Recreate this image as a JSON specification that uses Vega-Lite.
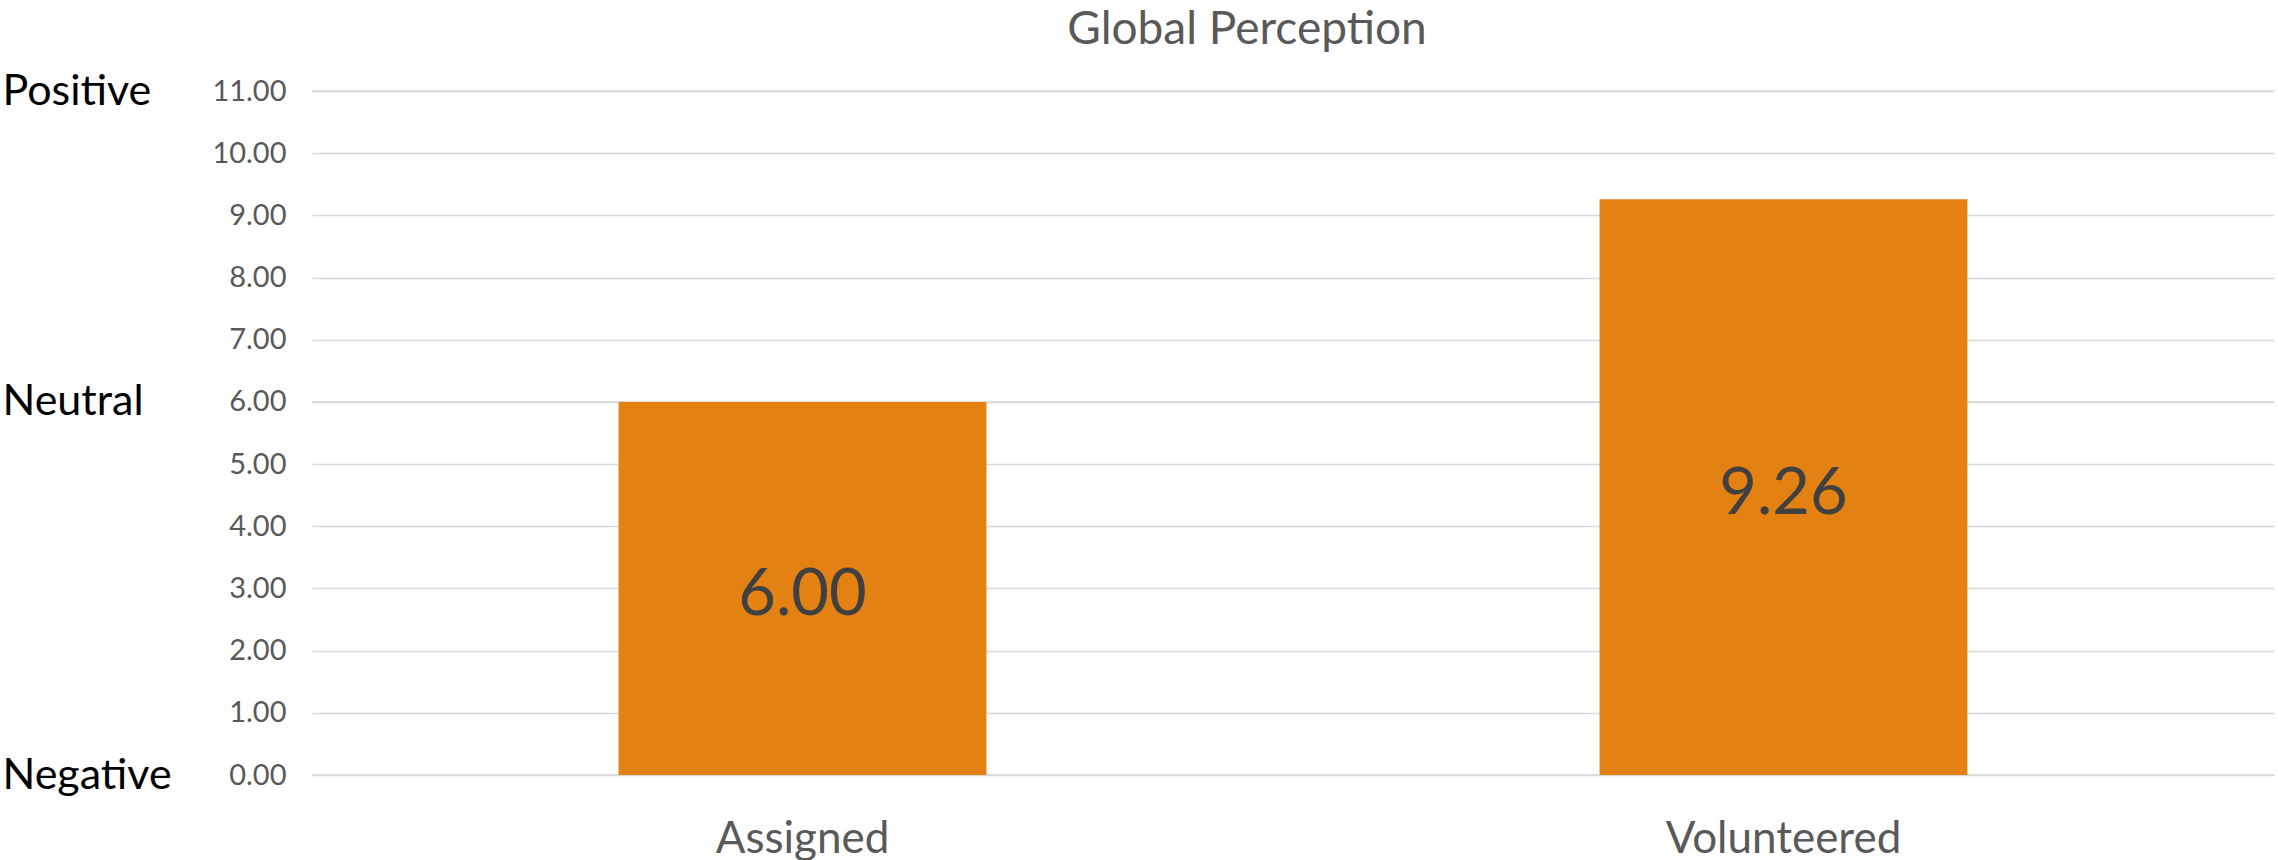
{
  "$schema": "https://vega.github.io/schema/vega-lite/v6.json",
  "width": 1962,
  "height": 684,
  "autosize": "none",
  "padding": {"left": 312, "top": 91, "right": 4, "bottom": 85},
  "background": "white",
  "config": {"view": {"stroke": null}, "font": "Lato"},
  "title": {
    "text": "Global Perception",
    "font": "Lato",
    "fontSize": 46,
    "fontWeight": "normal",
    "color": "#595959",
    "anchor": "middle",
    "frame": "group",
    "dx": -46,
    "offset": 16
  },
  "datasets": {
    "perception": [
      {"group": "Assigned", "score": 6.00},
      {"group": "Volunteered", "score": 9.26}
    ],
    "anchors": [
      {"rating": "Negative", "score": 0},
      {"rating": "Neutral", "score": 6},
      {"rating": "Positive", "score": 11}
    ]
  },
  "layer": [
    {
      "data": {"name": "anchors"},
      "mark": {"type": "rule", "color": "#D9D9D9", "strokeWidth": 1.5},
      "encoding": {
        "y": {
          "field": "score",
          "type": "quantitative",
          "scale": {"domain": [0, 11], "nice": false},
          "axis": {
            "orient": "left",
            "title": null,
            "values": [0, 6, 11],
            "labelExpr": "datum.value == 0 ? 'Negative' : datum.value == 6 ? 'Neutral' : 'Positive'",
            "grid": false,
            "domain": false,
            "ticks": false,
            "tickSize": 0,
            "labelAlign": "left",
            "labelBaseline": "middle",
            "labelFont": "Lato",
            "labelFontSize": 43,
            "labelColor": "#000000",
            "labelLimit": 0,
            "offset": 280,
            "labelPadding": 30
          }
        }
      }
    },
    {
      "data": {"name": "perception"},
      "mark": {"type": "bar", "color": "#E48113"},
      "encoding": {
        "x": {
          "field": "group",
          "type": "nominal",
          "sort": null,
          "scale": {"paddingInner": 0.625, "paddingOuter": 0.3125},
          "axis": {
            "title": null,
            "labelAngle": 0,
            "labelFont": "Lato",
            "labelFontSize": 44,
            "labelColor": "#595959",
            "labelLimit": 0,
            "ticks": false,
            "domain": false,
            "labelPadding": 42
          }
        },
        "y": {
          "field": "score",
          "type": "quantitative",
          "scale": {"domain": [0, 11], "nice": false},
          "axis": {
            "orient": "left",
            "title": null,
            "values": [0, 1, 2, 3, 4, 5, 6, 7, 8, 9, 10, 11],
            "format": ".2f",
            "grid": true,
            "gridColor": "#D9D9D9",
            "gridWidth": 1.5,
            "domain": false,
            "ticks": false,
            "tickSize": 0,
            "labelFont": "Lato",
            "labelFontSize": 29,
            "labelColor": "#595959",
            "labelPadding": 26
          }
        }
      }
    },
    {
      "data": {"name": "perception"},
      "mark": {"type": "text", "font": "Lato", "fontSize": 65, "color": "#404040", "baseline": "middle", "dy": 7},
      "encoding": {
        "x": {"field": "group", "type": "nominal", "sort": null},
        "y": {
          "field": "score",
          "type": "quantitative",
          "scale": {"domain": [0, 22], "nice": false},
          "axis": null
        },
        "text": {"field": "score", "type": "quantitative", "format": ".2f"}
      }
    }
  ],
  "resolve": {"scale": {"y": "independent"}}
}
